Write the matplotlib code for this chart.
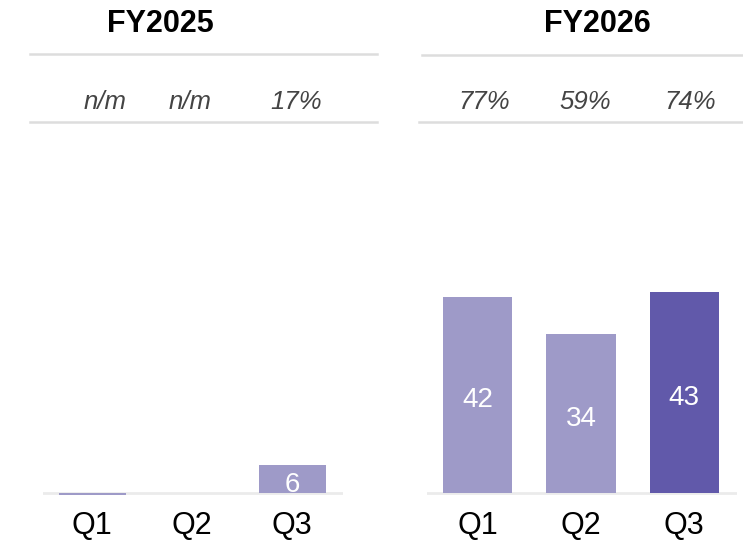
import matplotlib.pyplot as plt
from matplotlib.lines import Line2D
from matplotlib.transforms import blended_transform_factory

plt.rcParams['font.family'] = ['Liberation Sans', 'DejaVu Sans']

# data
quarters = ['Q1', 'Q2', 'Q3']
fy2025_values = [-0.5, 0, 6]
fy2025_labels = ['', '', '6']
fy2025_pct = ['n/m', 'n/m', '17%']
fy2026_values = [42, 34, 43]
fy2026_labels = ['42', '34', '43']
fy2026_pct = ['77%', '59%', '74%']

light = '#9e9ac8'
dark = '#6159aa'
W, H = 743, 540

fig = plt.figure(figsize=(W / 100, H / 100), dpi=100)


def px_axes(x0, x1, y_base, ymin, ymax, scale):
    # axes placed in pixel coords; y_base = baseline pixel row from top
    bottom = y_base + (-ymin) * scale
    top = y_base - ymax * scale
    return fig.add_axes([x0 / W, 1 - bottom / H, (x1 - x0) / W, (bottom - top) / H])


def draw_panel(ax, values, labels, pcts, colors, title, title_x, pct_dx):
    ax.set_xlim(-0.49, 2.51)
    ax.set_ylim(-2, 50)
    ax.axis('off')
    ax.axhline(0, color='#ebebeb', lw=2, zorder=1)
    x = range(len(values))
    ax.bar(x, values, width=0.67, color=colors, zorder=2)
    for i, v in enumerate(values):
        if labels[i]:
            ax.annotate(labels[i], (i, v / 2), xytext=(0, -4),
                        textcoords='offset points', ha='center', va='center',
                        color='white', fontsize=20)
    tr = blended_transform_factory(ax.transData, fig.transFigure)
    for i, q in enumerate(quarters):
        ax.text(i, 1 - 526 / H, q, transform=tr, ha='center', va='center',
                fontsize=22, color='black')
        ax.text(i + pct_dx[i], 1 - 102 / H, pcts[i], transform=tr, ha='center',
                va='center', fontsize=18.5, style='italic', color='#444444')
    fig.text(title_x / W, 1 - 24 / H, title, ha='center', va='center',
             fontsize=22, fontweight='bold')


ax1 = px_axes(43, 343, 493, -2, 50, 4.67)
draw_panel(ax1, fy2025_values, fy2025_labels, fy2025_pct,
           [light, light, light], 'FY2025', 160, [0.13, -0.02, 0.04])

ax2 = px_axes(427, 737, 493, -2, 50, 4.67)
draw_panel(ax2, fy2026_values, fy2026_labels, fy2026_pct,
           [light, light, dark], 'FY2026', 597, [0.06, 0.04, 0.06])

# header rules
for x0, x1, y in [(30, 377, 54), (30, 377, 122), (422, 743, 55), (419, 743, 122)]:
    fig.add_artist(Line2D([x0 / W, x1 / W], [1 - y / H, 1 - y / H],
                          transform=fig.transFigure, color='#dddddd', lw=1.8))

fig.savefig('out.png', dpi=100)
